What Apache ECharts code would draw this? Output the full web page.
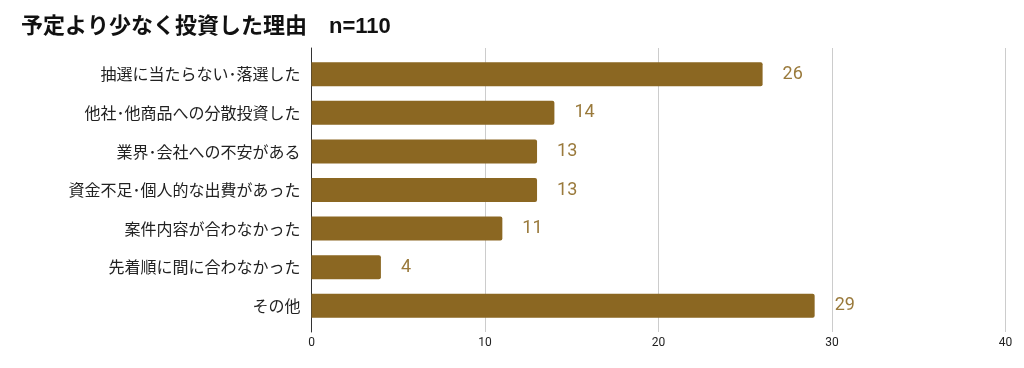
<!DOCTYPE html>
<html>
<head>
<meta charset="utf-8">
<script src="https://cdn.jsdelivr.net/npm/echarts@6/dist/echarts.min.js"></script>
<style>
html,body{margin:0;padding:0;background:#fff;}
#c{width:1024px;height:368px;}
</style>
</head>
<body>
<div id="c"></div>
<script>
const titleText = '予定より少なく投資した理由　n=110';
const categories = [
  '抽選に当たらない･落選した',
  '他社･他商品への分散投資した',
  '業界･会社への不安がある',
  '資金不足･個人的な出費があった',
  '案件内容が合わなかった',
  '先着順に間に合わなかった',
  'その他'
];
const values = [26, 14, 13, 13, 11, 4, 29];
const xTicks = [0, 10, 20, 30, 40];

const xMin = xTicks[0], xMax = xTicks[xTicks.length - 1];
const chart = echarts.init(document.getElementById('c'), null, {renderer: 'canvas'});
chart.setOption({
  animation: false,
  backgroundColor: '#ffffff',
  title: {
    text: titleText,
    left: 21, top: 16, padding: 0,
    textStyle: {fontFamily: '"Liberation Sans", "Noto Sans CJK JP", sans-serif', fontSize: 22, fontWeight: 'bold', color: '#111'}
  },
  grid: [
    {left: 311.5, right: 18.5, top: 48, height: 284},
    {left: 311.5, right: 18.5, top: 55, height: 270}
  ],
  xAxis: [{
    gridIndex: 0,
    type: 'value',
    min: xMin, max: xMax, interval: 10,
    axisLine: {show: false},
    axisTick: {show: false},
    axisLabel: {color: '#222', fontSize: 12, fontFamily: 'Roboto, sans-serif', margin: 5},
    splitLine: {lineStyle: {color: '#cccccc', width: 1}}
  }, {
    gridIndex: 1,
    type: 'value',
    min: xMin, max: xMax, interval: 10,
    show: false
  }],
  yAxis: [{
    gridIndex: 0,
    type: 'value', min: 0, max: 1,
    axisLine: {show: true, lineStyle: {color: '#333', width: 1}},
    axisTick: {show: false},
    axisLabel: {show: false},
    splitLine: {show: false}
  }, {
    gridIndex: 1,
    type: 'category',
    data: categories,
    inverse: true,
    axisLine: {show: false},
    axisTick: {show: false},
    axisLabel: {color: '#222', fontSize: 16, fontFamily: '"Noto Sans CJK JP", sans-serif', margin: 11}
  }],
  series: [{
    type: 'bar',
    xAxisIndex: 1, yAxisIndex: 1,
    data: values,
    barWidth: 24,
    itemStyle: {color: '#8B6722', borderRadius: [0, 2, 2, 0]},
    label: {
      show: true, position: 'right', distance: 20,
      color: '#9A7A3C', fontSize: 18, fontFamily: 'Roboto, sans-serif'
    }
  }]
});
</script>
</body>
</html>
